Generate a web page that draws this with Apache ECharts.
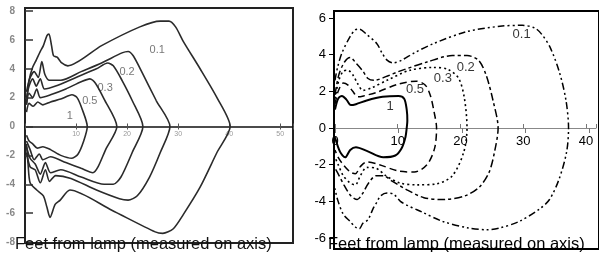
<!DOCTYPE html>
<html>
<head>
<meta charset="utf-8">
<script src="https://cdn.jsdelivr.net/npm/echarts@6/dist/echarts.min.js"></script>
<style>
html, body { margin: 0; padding: 0; background: #fff; }
#chart { width: 599px; height: 258px; }
</style>
</head>
<body>
<div id="chart"></div>
<script>
// contour levels (same for both panels)
const levels = ['1', '0.5', '0.3', '0.2', '0.1'];

// left panel: old scanned plot, [feet on axis, feet off axis]
const left1 = [[0.3,1.0],[0.8,1.6],[1.6,1.4],[2.5,1.7],[3.5,1.5],[5,1.7],[7,1.9],[9.2,2.2],[10.2,2.0],[11.2,1.2],[12.2,0],
  [11.5,-1.0],[10.4,-1.9],[9.2,-2.2],[7,-2.0],[5,-1.6],[3.5,-1.4],[2.4,-1.5],[1.5,-1.2],[0.8,-1.0],[0.3,-0.6]];
const left05 = [[0.3,1.5],[0.8,2.3],[1.5,2.0],[2.3,2.6],[3,2.0],[5,2.2],[8,2.6],[11,3.1],[12.7,3.3],[13.8,3.0],[15.5,1.9],[18,0],
  [15.8,-1.6],[14.3,-2.8],[13.3,-3.2],[11,-2.9],[8,-2.5],[5,-2.1],[3.5,-2.3],[2.8,-1.9],[1.8,-2.3],[1,-1.6],[0.3,-1.0]];
const left03 = [[0.3,2.0],[0.8,2.8],[1.5,3.3],[2.2,2.8],[3,3.3],[3.8,2.6],[6,2.8],[10,3.4],[14,4.0],[16.2,4.4],[17.3,4.2],[19,3.2],[21,1.8],[23.1,0],
  [21,-1.8],[18.8,-3.5],[17.3,-4.0],[15.5,-4.0],[11,-3.5],[7,-3.0],[5,-3.2],[4,-2.5],[3,-3.3],[2,-2.6],[1,-2.2],[0.3,-1.4]];
const left02 = [[0.3,2.4],[0.9,3.3],[1.8,3.8],[2.6,3.4],[3.3,4.5],[3.9,3.6],[4.8,3.2],[7,3.2],[11,3.8],[15,4.4],[19,5.1],[20.2,5.2],[21.2,4.9],[23,3.7],[25.7,1.8],[28.4,0],
  [26.5,-1.8],[24.4,-3.5],[22,-4.8],[20.2,-5.1],[18.5,-5.0],[14,-4.4],[9,-3.6],[6,-3.4],[4.8,-3.8],[4,-3.0],[3,-3.9],[2,-3.0],[1,-2.8],[0.3,-1.8]];
const left01 = [[0.3,1.6],[0.8,3.2],[1.5,4.1],[2.2,4.6],[3.0,5.2],[3.6,5.6],[4.3,6.3],[4.7,6.4],[5.2,5.6],[5.6,4.9],[6.3,4.8],[7.2,4.4],[8.4,4.2],[15,5.6],[22.5,6.9],[26.5,7.3],[28.2,7.3],[29.5,6.9],[31,5.9],[34.3,4.0],[37.6,2.0],[40.2,0],
  [37.6,-1.8],[34.3,-4.2],[31,-6.1],[29,-7.1],[27,-7.4],[25.5,-7.3],[17,-5.8],[8.8,-4.4],[6.9,-5.1],[5.9,-5.4],[4.9,-6.3],[4.3,-5.6],[3.6,-4.8],[2.3,-4.4],[1,-3.9],[0.6,-2.6],[0.3,-1.2]];
const leftLabelX = [8.8, 12.7, 15.7, 20.0, 25.9];
const leftLabelY = [0.75, 1.8, 2.7, 3.8, 5.3];

// right panel: redrawn plot
const right1 = [[0,1.0],[0.5,1.6],[1.1,1.75],[1.8,1.55],[2.5,1.25],[3.3,1.3],[5,1.5],[7.5,1.7],[10,1.75],[10.9,1.6],[11.3,1.0],[11.4,0.4],[11.3,0],
  [11.1,-0.5],[10.5,-1.1],[9.5,-1.5],[7.6,-1.6],[5,-1.25],[3.3,-1.05],[2.4,-1.2],[1.6,-1.6],[0.8,-1.3],[0,-0.5]];
const right05 = [[0,1.3],[0.5,2.0],[1.3,2.45],[2.0,2.35],[2.8,2.0],[3.6,1.7],[4.5,1.75],[6.6,1.95],[10,2.4],[12.8,2.55],[14.2,2.35],[15,1.8],[15.6,0.9],[16,0],
  [15.7,-1.1],[14.5,-2.0],[12.5,-2.4],[10,-2.35],[7,-2.0],[5,-1.85],[4,-2.1],[3.2,-2.5],[2.4,-2.4],[1.3,-2.0],[0.5,-1.6],[0,-1.2]];
const right03 = [[0,1.6],[0.6,2.6],[1.3,3.1],[2.0,3.15],[2.8,2.9],[3.6,2.4],[4.4,2.05],[5.8,2.2],[8.2,2.6],[11.8,3.15],[15.4,3.3],[17.8,3.2],[19.5,2.7],[20.4,1.6],[20.8,0],
  [20.3,-1.3],[18.5,-2.6],[16,-3.05],[13,-3.1],[10.2,-3.0],[8,-2.6],[6.5,-2.2],[5,-2.15],[4,-2.6],[3.2,-3.1],[2.4,-3.0],[1.3,-2.6],[0.5,-2.0],[0,-1.6]];
const right02 = [[0,1.8],[0.6,2.9],[1.5,3.6],[2.4,3.85],[3.4,3.5],[4.4,3.1],[5.2,2.7],[6.2,2.6],[8,2.8],[10.2,3.1],[14.5,3.6],[18.5,3.95],[20.8,3.95],[22.6,3.7],[23.8,2.9],[24.9,1.5],[25.7,0],
  [25.2,-1.2],[24.3,-2.4],[22.8,-3.2],[20.5,-3.7],[17,-3.9],[14,-3.8],[11.5,-3.4],[9,-2.9],[7.6,-2.6],[6.5,-2.6],[5.3,-3.0],[4.3,-3.6],[3.5,-3.9],[2.5,-3.7],[1.4,-3.1],[0.5,-2.5],[0,-2.2]];
const right01 = [[0,2.6],[0.4,3.3],[1.1,4.1],[2.4,5.0],[3.2,5.35],[3.8,5.4],[5,5.1],[6.6,4.6],[7.4,4.1],[8.2,3.7],[9.2,3.55],[10.5,3.7],[12.5,4.1],[15.5,4.6],[20.7,5.25],[26,5.55],[29.5,5.6],[31.5,5.45],[32.6,5.1],[33.9,4.4],[35.4,3.0],[36.4,1.5],[36.8,0],
  [36.5,-1.3],[35.3,-2.8],[33.8,-3.9],[32.3,-4.4],[29,-5.1],[26,-5.45],[23.9,-5.55],[21,-5.45],[17,-5.1],[13.8,-4.6],[10.5,-4.05],[9.2,-3.6],[8.2,-3.55],[7.2,-3.7],[6.5,-4.1],[6,-4.4],[5.2,-5.0],[4.4,-5.2],[3.8,-5.5],[3.2,-5.4],[2.4,-5.1],[1.3,-4.7],[0.4,-3.9],[0,-3.3]];
const rightLabelX = [8.7, 12.6, 17.0, 20.6, 29.4];
const rightLabelY = [1.15, 2.1, 2.7, 3.3, 5.1];

const axisTitle = 'Feet from lamp (measured on axis)';

const leftLines = [left1, left05, left03, left02, left01];
const rightLines = [right1, right05, right03, right02, right01];
// dash pattern per level on the right
const rightDash = ['solid', [7, 4], [2, 3], [8, 3, 3, 3], [7, 3, 2, 3, 2, 3]];
const rightWidth = [2, 1.5, 1.6, 1.5, 1.5];

const chart = echarts.init(document.getElementById('chart'), null, { renderer: 'canvas' });
const font = 'Liberation Sans, Arial, sans-serif';

function tenFormatter(withZero) {
  return function (v) {
    if (Math.abs(v % 10) > 1e-6) return '';
    if (v === 0 && !withZero) return '';
    return String(v);
  };
}

// grid / axis indices
// 0 left frame, 1 left data, 2 left axis (above zero), 3 left axis (below zero)
// 4 right frame, 5 right data, 6 right axis (above zero), 7 right axis (below zero)
const LX = 52.5, RX = 41.6;

let series = [];
leftLines.forEach(function (d) {
  series.push({
    type: 'line', xAxisIndex: 1, yAxisIndex: 1, data: d,
    symbol: 'none', smooth: 0.25, silent: true,
    lineStyle: { color: '#2b2b2b', width: 1.6 }
  });
});
rightLines.forEach(function (d, i) {
  series.push({
    type: 'line', xAxisIndex: 5, yAxisIndex: 5, data: d,
    symbol: 'none', smooth: 0.3, silent: true,
    lineStyle: { color: '#000', width: rightWidth[i], type: rightDash[i] }
  });
});
series.push({
  type: 'scatter', xAxisIndex: 1, yAxisIndex: 1, symbolSize: 1, silent: true,
  itemStyle: { color: 'rgba(0,0,0,0)' },
  data: levels.map(function (n, i) { return { name: n, value: [leftLabelX[i], leftLabelY[i]] }; }),
  label: { show: true, position: 'inside', formatter: '{b}', color: '#555', fontSize: 11, fontFamily: font }
});
series.push({
  type: 'scatter', xAxisIndex: 5, yAxisIndex: 5, symbolSize: 1, silent: true,
  itemStyle: { color: 'rgba(0,0,0,0)' },
  data: levels.map(function (n, i) { return { name: n, value: [rightLabelX[i], rightLabelY[i]] }; }),
  label: { show: true, position: 'inside', formatter: '{b}', color: '#000', fontSize: 13, fontFamily: font }
});

function hiddenX(g, max) { return { gridIndex: g, show: false, type: 'value', min: 0, max: max || 1 }; }
function hiddenY(g) { return { gridIndex: g, show: false, type: 'value', min: 0, max: 1 }; }

const option = {
  animation: false,
  backgroundColor: '#fff',
  title: [
    { text: axisTitle, left: 15, top: 236, padding: 0,
      textStyle: { fontSize: 16.5, fontWeight: 'normal', color: '#111', fontFamily: font } },
    { text: axisTitle, left: 328, top: 236, padding: 0,
      textStyle: { fontSize: 16.5, fontWeight: 'normal', color: '#000', fontFamily: font } }
  ],
  grid: [
    { left: 25, top: 8, width: 268, height: 235, show: true, borderColor: '#222', borderWidth: 2 },
    { left: 25, top: 11, width: 268, height: 231 },
    { left: 25, top: 11, width: 268, height: 115.5 },
    { left: 25, top: 126.5, width: 268, height: 115.5 },
    { left: 334, top: 11, width: 290, height: 238, show: true, borderColor: '#000', borderWidth: 2 },
    { left: 335, top: 18, width: 264, height: 220 },
    { left: 335, top: 18, width: 264, height: 110 },
    { left: 335, top: 128, width: 264, height: 110 }
  ],
  xAxis: [
    hiddenX(0),
    hiddenX(1, LX),
    { gridIndex: 2, type: 'value', min: 0, max: LX, interval: 10, position: 'bottom',
      axisLine: { onZero: false, lineStyle: { color: '#111', width: 1.5 } },
      axisTick: { inside: true, length: 3, lineStyle: { color: '#555' } },
      axisLabel: { fontSize: 7, color: '#999', margin: 4, formatter: tenFormatter(false), fontFamily: font },
      splitLine: { show: false } },
    { gridIndex: 3, type: 'value', min: 0, max: LX, interval: 10, position: 'top',
      axisLine: { show: false, onZero: false },
      axisTick: { inside: true, length: 3, lineStyle: { color: '#555' } },
      axisLabel: { show: false }, splitLine: { show: false } },
    hiddenX(4),
    hiddenX(5, RX),
    { gridIndex: 6, type: 'value', min: 0, max: RX, interval: 10, position: 'bottom',
      axisLine: { onZero: false, lineStyle: { color: '#888', width: 1 } },
      axisTick: { inside: true, length: 4, lineStyle: { color: '#777' } },
      axisLabel: { fontSize: 13, color: '#000', margin: 7, formatter: tenFormatter(true), fontFamily: font },
      splitLine: { show: false } },
    { gridIndex: 7, type: 'value', min: 0, max: RX, interval: 10, position: 'top',
      axisLine: { show: false, onZero: false },
      axisTick: { inside: true, length: 5, lineStyle: { color: '#777' } },
      axisLabel: { show: false }, splitLine: { show: false } }
  ],
  yAxis: [
    hiddenY(0),
    { gridIndex: 1, type: 'value', min: -8, max: 8, interval: 2,
      axisLine: { show: false },
      axisTick: { inside: true, length: 8, lineStyle: { color: '#333', width: 1.5 } },
      axisLabel: { fontSize: 10, color: '#888', fontWeight: 'bold', margin: 10, fontFamily: font },
      splitLine: { show: false } },
    hiddenY(2),
    hiddenY(3),
    hiddenY(4),
    { gridIndex: 5, type: 'value', min: -6, max: 6, interval: 2,
      axisLine: { show: false },
      axisTick: { length: 6, lineStyle: { color: '#000' } },
      axisLabel: { fontSize: 13, color: '#000', margin: 9, fontFamily: font },
      splitLine: { show: false } },
    hiddenY(6),
    hiddenY(7)
  ],
  series: series
};
chart.setOption(option);
</script>
</body>
</html>
